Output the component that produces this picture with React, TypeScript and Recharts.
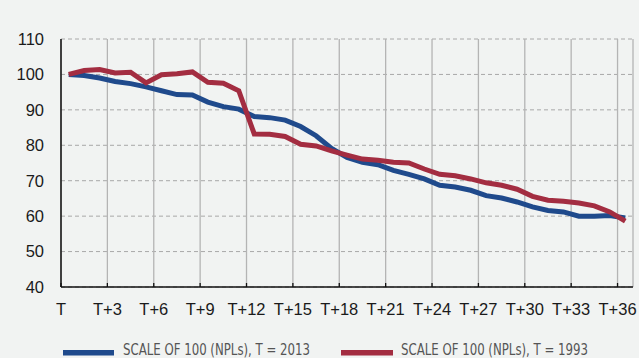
import { CartesianGrid, Line, LineChart, XAxis, YAxis } from "recharts"

// months after T (category index)
const months = [
  0, 1, 2, 3, 4, 5, 6, 7, 8, 9, 10, 11, 12, 13, 14, 15, 16, 17, 18, 19, 20,
  21, 22, 23, 24, 25, 26, 27, 28, 29, 30, 31, 32, 33, 34, 35, 36,
]

const npl2013 = [
  100, 99.7, 99, 98, 97.4, 96.5, 95.4, 94.3, 94.2, 92.2, 90.9, 90.2, 88.1,
  87.8, 87.1, 85.3, 82.7, 79.1, 76.6, 75.2, 74.5, 72.9, 71.8, 70.5, 68.7, 68.2,
  67.3, 65.8, 65.1, 64, 62.6, 61.6, 61.2, 60, 60, 60.2, 59.5,
]

const npl1993 = [
  100, 101.1, 101.4, 100.4, 100.6, 97.6, 99.9, 100.2, 100.7, 97.8, 97.5, 95.4,
  83.2, 83.1, 82.5, 80.3, 79.8, 78.4, 77.2, 76.1, 75.8, 75.2, 75.0, 73.3, 71.8,
  71.4, 70.5, 69.4, 68.7, 67.6, 65.6, 64.5, 64.2, 63.7, 62.9, 61.2, 58.6,
]

const tickLabels = [
  "T", "T+3", "T+6", "T+9", "T+12", "T+15", "T+18",
  "T+21", "T+24", "T+27", "T+30", "T+33", "T+36",
]
const yTicks = [40, 50, 60, 70, 80, 90, 100, 110]

const BLUE = "#1f4a8c"
const RED = "#a32d41"
const BG = "#f1f3f2"

// ticks sit on the category boundaries, like the source chart
const xTicks = tickLabels.map((_, i) => i * 3 - 0.5)

const data = months.map((m, i) => ({
  m,
  s2013: npl2013[i],
  s1993: npl1993[i],
}))

const font = "'Liberation Sans', Arial, Helvetica, sans-serif"
const legendFont = "'Liberation Sans Narrow', 'DejaVu Sans Condensed', " + font

export default function App() {
  return (
    <div
      style={{
        position: "fixed",
        left: 0,
        top: 0,
        width: 639,
        height: 358,
        background: BG,
        overflow: "hidden",
      }}
    >
      <LineChart
        width={639}
        height={358}
        data={data}
        margin={{ top: 39, right: 6, left: 0, bottom: 41 }}
      >
        <CartesianGrid
          horizontal={true}
          vertical={false}
          stroke="#a8a8a8"
          strokeDasharray="4 3"
        />
        <CartesianGrid
          horizontal={false}
          vertical={true}
          stroke="#b4b4b4"
          strokeWidth={1.3}
        />
        <XAxis
          dataKey="m"
          type="number"
          domain={[-0.5, 36.5]}
          ticks={xTicks}
          interval={0}
          tickFormatter={(v: number) => tickLabels[Math.round((v + 0.5) / 3)]}
          height={30}
          tickSize={-4}
          tickMargin={20}
          axisLine={{ stroke: "#111", strokeWidth: 1.5 }}
          tickLine={{ stroke: "#111", strokeWidth: 1.3 }}
          tick={{ fill: "#1a1a1a", fontSize: 16.5, fontFamily: font }}
        />
        <YAxis
          domain={[40, 110]}
          ticks={yTicks}
          interval={0}
          width={61}
          tickSize={0}
          tickMargin={17}
          axisLine={{ stroke: "#111", strokeWidth: 1.5 }}
          tickLine={false}
          tick={{ fill: "#1a1a1a", fontSize: 16.5, fontFamily: font }}
        />
        <Line
          dataKey="s2013"
          type="linear"
          stroke={BLUE}
          strokeWidth={5}
          dot={false}
          isAnimationActive={false}
        />
        <Line
          dataKey="s1993"
          type="linear"
          stroke={RED}
          strokeWidth={5}
          dot={false}
          isAnimationActive={false}
        />
      </LineChart>
      <svg
        width={639}
        height={23}
        style={{ position: "absolute", left: 0, top: 335 }}
      >
        <rect x={63} y={15} width={51} height={5.5} fill={BLUE} />
        <text
          x={123}
          y={19.5}
          fontSize={15.5}
          fill="#555"
          fontFamily={legendFont}
          textLength={187}
          lengthAdjust="spacingAndGlyphs"
        >
          SCALE OF 100 (NPLs), T = 2013
        </text>
        <rect x={341} y={15} width={52} height={5.5} fill={RED} />
        <text
          x={401}
          y={19.5}
          fontSize={15.5}
          fill="#555"
          fontFamily={legendFont}
          textLength={187}
          lengthAdjust="spacingAndGlyphs"
        >
          SCALE OF 100 (NPLs), T = 1993
        </text>
      </svg>
    </div>
  )
}
